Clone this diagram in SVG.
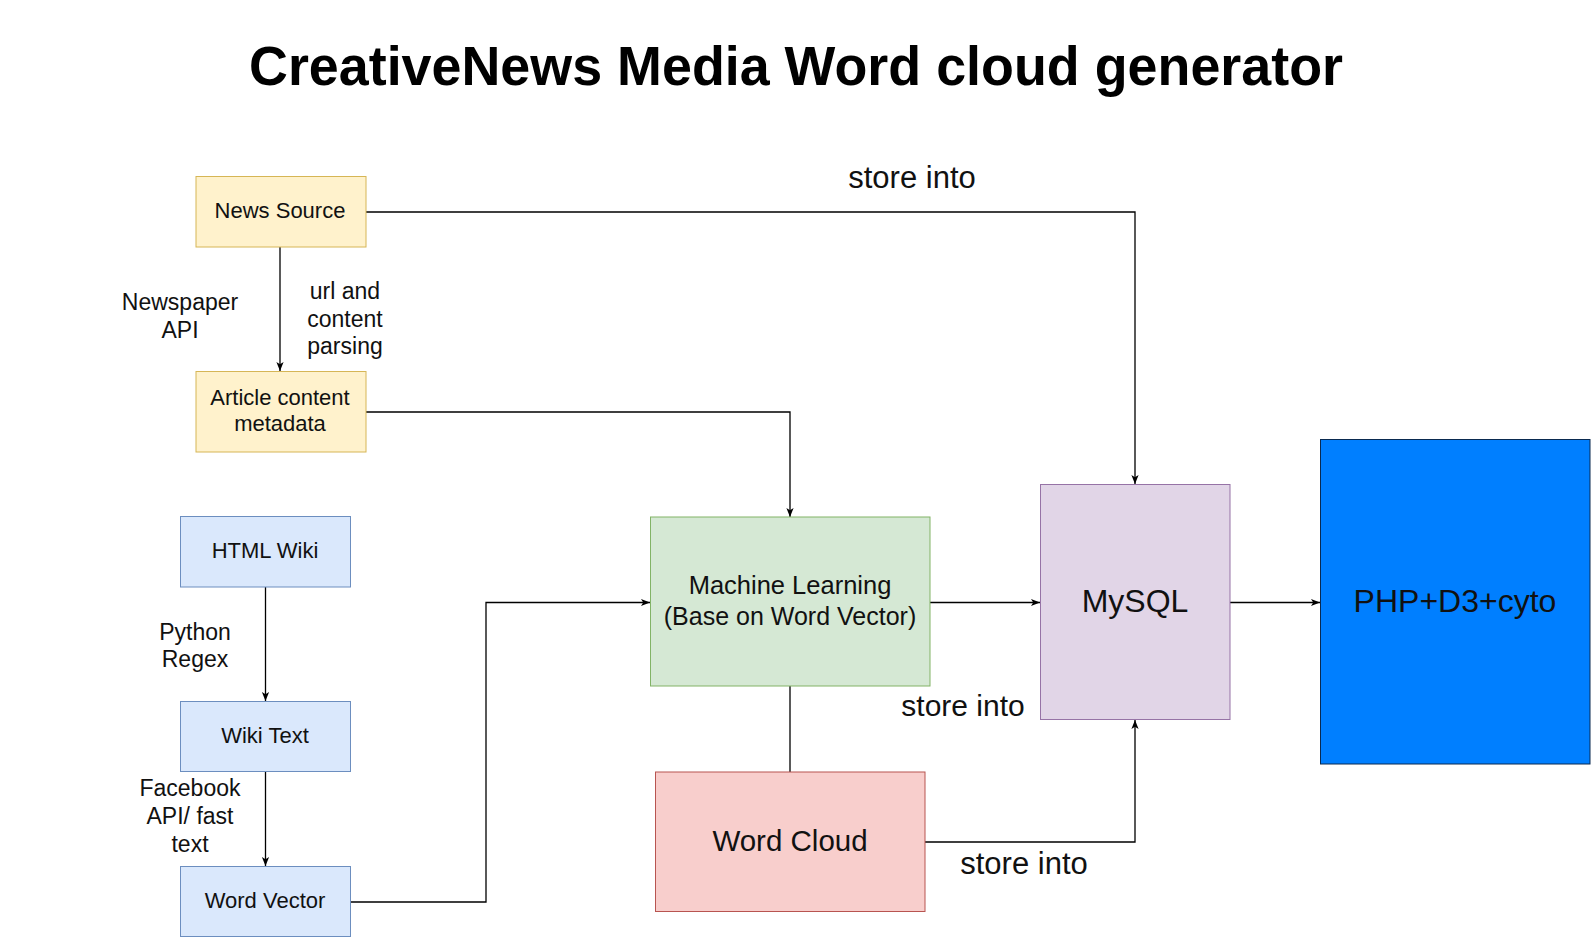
<svg xmlns="http://www.w3.org/2000/svg" width="1592" height="937" viewBox="0 0 1592 937">
<style>
text{font-family:"Liberation Sans",Arial,sans-serif;fill:#111;dominant-baseline:central;text-anchor:middle}
.yel{fill:#fff2cc;stroke:#d6b656;stroke-width:1}
.blu{fill:#dae8fc;stroke:#6c8ebf;stroke-width:1}
.grn{fill:#d5e8d4;stroke:#82b366;stroke-width:1}
.pnk{fill:#f8cecc;stroke:#b85450;stroke-width:1}
.pur{fill:#e1d5e7;stroke:#9673a6;stroke-width:1}
.php{fill:#007fff;stroke:#0a2a50;stroke-width:1}
.edge{fill:none;stroke:#000;stroke-width:1.3}
.arr{marker-end:url(#ah)}
.bx{font-size:22px}
.lbl{font-size:23px}
.st{font-size:31px}
.st2{font-size:30px}
</style>
<defs>
<marker id="ah" viewBox="0 0 10 10" refX="10" refY="5" markerWidth="9" markerHeight="9" markerUnits="userSpaceOnUse" orient="auto">
<path d="M0,1 L10,5 L0,9 L2.5,5 Z" fill="#000"/>
</marker>
</defs>
<rect width="1592" height="937" fill="#fff"/>
<text x="796" y="65" font-size="56" font-weight="bold" textLength="1094" lengthAdjust="spacingAndGlyphs" style="fill:#000">CreativeNews Media Word cloud generator</text>

<g id="connectors">
<path class="edge arr" d="M280,247 L280,371"/>
<path class="edge arr" d="M366,212 L1135,212 L1135,484"/>
<path class="edge arr" d="M366,412 L790,412 L790,517"/>
<path class="edge arr" d="M265.5,587 L265.5,701"/>
<path class="edge arr" d="M265.5,771 L265.5,866"/>
<path class="edge arr" d="M350,902 L486,902 L486,602.5 L650,602.5"/>
<path class="edge arr" d="M930,602.5 L1040,602.5"/>
<path class="edge arr" d="M1230,602.5 L1320,602.5"/>
<path class="edge" d="M790,686 L790,772"/>
<path class="edge arr" d="M925,842 L1135,842 L1135,720"/>
</g>

<g id="labels">
<text class="st" x="912" y="177">store into</text>
<text class="lbl" x="180" y="302">Newspaper</text>
<text class="lbl" x="180" y="330">API</text>
<text class="lbl" x="345" y="291">url and</text>
<text class="lbl" x="345" y="318.5">content</text>
<text class="lbl" x="345" y="346">parsing</text>
<text class="lbl" x="195" y="632">Python</text>
<text class="lbl" x="195" y="659">Regex</text>
<text class="lbl" x="190" y="788">Facebook</text>
<text class="lbl" x="190" y="816">API/ fast</text>
<text class="lbl" x="190" y="844">text</text>
<text class="st2" x="963" y="705">store into</text>
<text class="st" x="1024" y="863">store into</text>
</g>

<g id="news-source">
<rect class="yel" x="196" y="176.5" width="170" height="70.5"/>
<text class="bx" x="280" y="210">News Source</text>
</g>
<g id="article-content">
<rect class="yel" x="196" y="371.5" width="170" height="80.5"/>
<text class="bx" x="280" y="397">Article content</text>
<text class="bx" x="280" y="423.5">metadata</text>
</g>
<g id="html-wiki">
<rect class="blu" x="180.5" y="516.5" width="170" height="70.5"/>
<text class="bx" x="265" y="550">HTML Wiki</text>
</g>
<g id="wiki-text">
<rect class="blu" x="180.5" y="701.5" width="170" height="70"/>
<text class="bx" x="265" y="735">Wiki Text</text>
</g>
<g id="word-vector">
<rect class="blu" x="180.5" y="866.5" width="170" height="70"/>
<text class="bx" x="265" y="900">Word Vector</text>
</g>
<g id="machine-learning">
<rect class="grn" x="650.5" y="517" width="279.5" height="169"/>
<text x="790" y="585" font-size="25.5">Machine Learning</text>
<text x="790" y="616" font-size="25">(Base on Word Vector)</text>
</g>
<g id="word-cloud">
<rect class="pnk" x="655.5" y="772" width="269.5" height="139.5"/>
<text x="790" y="840" font-size="29.5">Word Cloud</text>
</g>
<g id="mysql">
<rect class="pur" x="1040.5" y="484.5" width="189.5" height="235"/>
<text x="1135" y="600.5" font-size="32">MySQL</text>
</g>
<g id="php">
<rect class="php" x="1320.5" y="439.5" width="269.5" height="324.5"/>
<text x="1455" y="601" font-size="32">PHP+D3+cyto</text>
</g>
</svg>
